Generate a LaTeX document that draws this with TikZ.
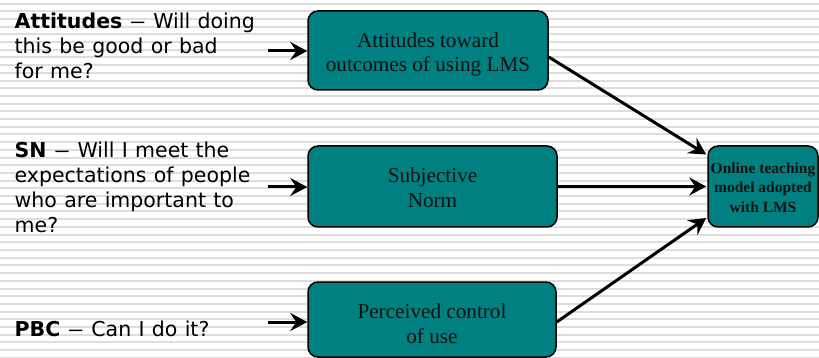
\documentclass[tikz,border=0pt]{standalone}
\usepackage{graphicx}
\usepackage{fontspec}
\setmainfont{Liberation Serif}
\newfontfamily\verd[WordSpace=1.12]{DejaVu Sans}
\usetikzlibrary{arrows.meta}
\definecolor{tealbox}{HTML}{008080}
\definecolor{stripe}{HTML}{DDDDDD}
\definecolor{boxtext}{HTML}{111111}
\newcommand\widedash{\scalebox{1.6}[1]{–}}
\begin{document}
\begin{tikzpicture}[x=1pt,y=-1pt,
  box/.style={draw=black, line width=1.5pt, fill=tealbox, rounded corners=10pt,
    inner sep=0pt},
  boxtxt/.style={align=center, inner sep=0pt, text=boxtext,
    font=\fontsize{21.2}{24.7}\selectfont},
  outtxt/.style={boxtxt, font=\fontsize{15.5}{19.5}\selectfont\bfseries},
  lefttext/.style={anchor=north west, inner sep=0pt, align=left,
    font=\verd\fontsize{20.5}{25}\selectfont},
  arr/.style={line width=3pt, -{Stealth[length=17pt,width=18pt,inset=6pt]}}]
\useasboundingbox (0,0) rectangle (819,358);
\fill[white] (0,0) rectangle (819,358);
\foreach \k in {0,...,46} {
  \draw[stripe, line width=2pt] (0,3.6+7.7*\k) -- (819,3.6+7.7*\k);
}
% boxes
\node[box, minimum width=240pt, minimum height=79pt] (b1) at (428,50.5) {};
\node[box, minimum width=249pt, minimum height=81pt] (b2) at (432.5,186.5) {};
\node[box, minimum width=248pt, minimum height=75pt] (b3) at (432,319.5) {};
\node[box, minimum width=110pt, minimum height=81pt] (b4) at (763,186.5) {};
\node[boxtxt] (b1t) at ([yshift=-4pt]b1.center) {Attitudes toward\\outcomes of using LMS};
\node[boxtxt] (b2t) at ([yshift=-1pt]b2.center) {Subjective\\Norm};
\node[boxtxt] (b3t) at ([yshift=-4pt]b3.center) {Perceived control\\of use};
\node[outtxt] (b4t) at ([yshift=-1pt]b4.center) {Online teaching\\model adopted\\with LMS};
% left texts
\node[lefttext] (t1) at (14.5,12.7)
  {\textbf{Attitudes} \widedash{} Will doing\\this be good or bad\\for me?};
\node[lefttext] (t2) at (14.5,141.4)
  {\textbf{SN} \widedash{} Will I meet the\\expectations of people\\who are important to\\me?};
\node[lefttext] (t3) at (14.5,321.1)
  {\textbf{PBC} \widedash{} Can I do it?};
% input arrows
\coordinate (a1) at (268,51);
\coordinate (a2) at (268,187);
\coordinate (a3) at (268,322);
\draw[arr] (a1) -- (b1.west |- a1);
\draw[arr] (a2) -- (b2.west |- a2);
\draw[arr] (a3) -- (b3.west |- a3);
% output arrows
\draw[arr] ([yshift=-6.5pt]b1.east) -- ([xshift=-1pt,yshift=32pt]b4.west);
\draw[arr] (b2.east) -- ([xshift=-1pt]b4.west);
\draw[arr] ([yshift=-2.5pt]b3.east) -- ([xshift=-1pt,yshift=-31.5pt]b4.west);
\end{tikzpicture}
\end{document}
